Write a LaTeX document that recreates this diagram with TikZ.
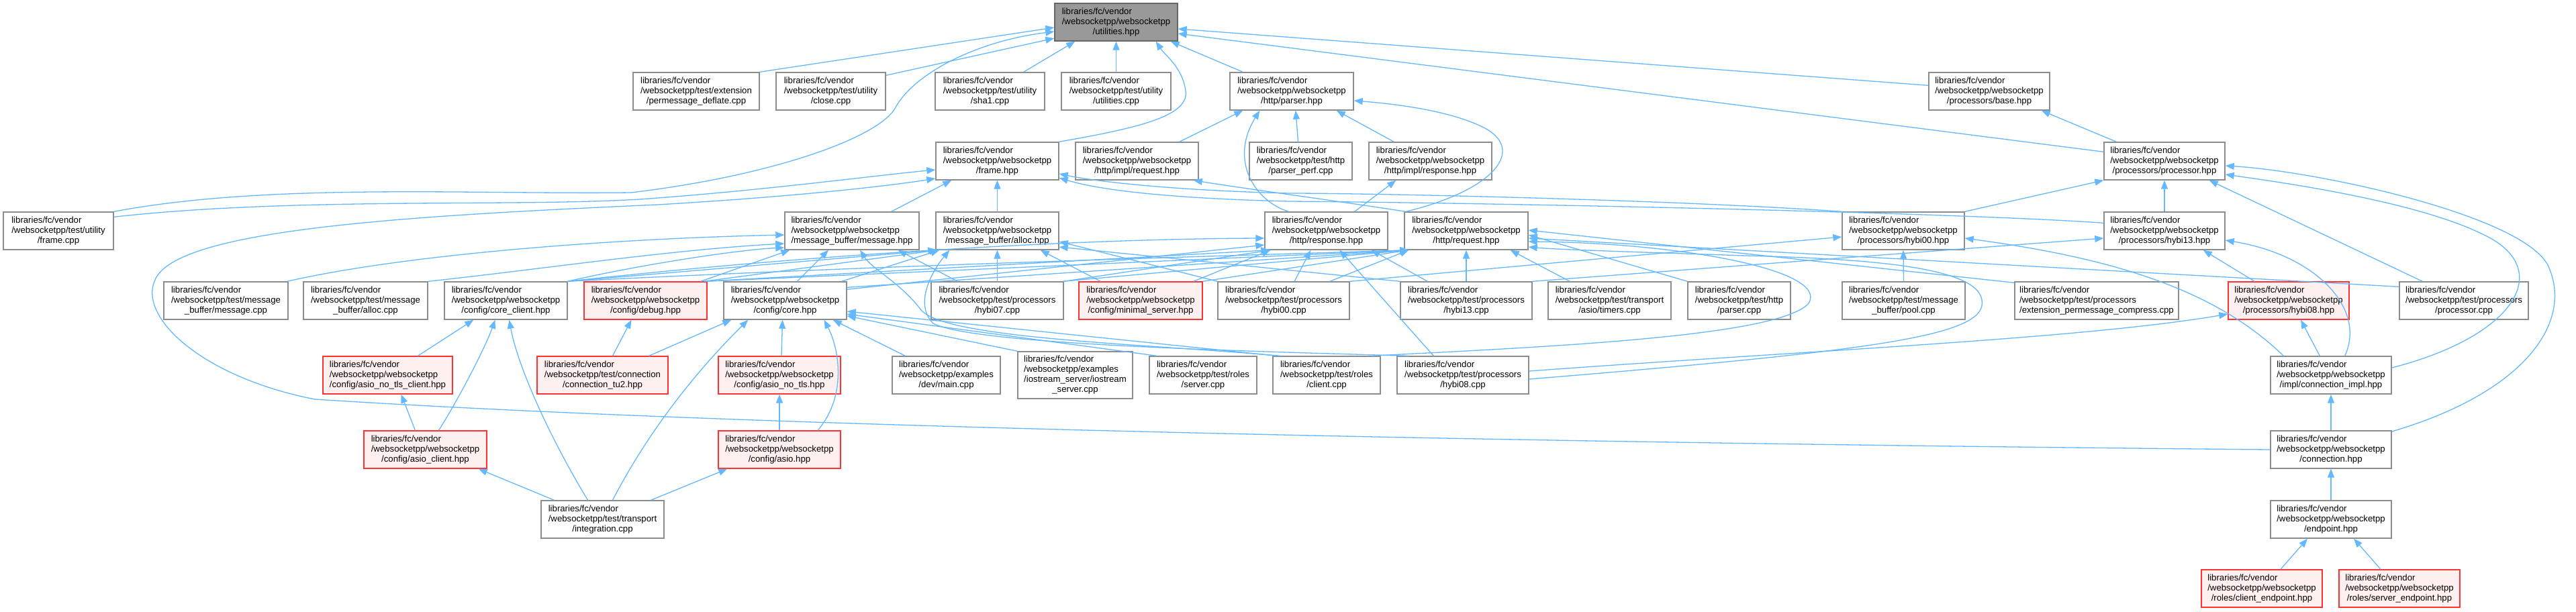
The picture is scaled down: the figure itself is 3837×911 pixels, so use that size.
\documentclass[tikz,border=0pt]{standalone}
\usepackage{fontspec}
\setmainfont{Liberation Sans}
\usetikzlibrary{arrows.meta}
\definecolor{edgeblue}{HTML}{63B8FF}
\definecolor{boxgray}{HTML}{8C8C8C}
\definecolor{rootfill}{HTML}{999999}
\definecolor{rootdraw}{HTML}{666666}
\definecolor{redfill}{HTML}{FFF0F0}
\definecolor{reddraw}{HTML}{FF3333}
\newcommand\lbl[3]{\begin{tabular}{@{}l@{}}#1\\#2\\\multicolumn{1}{@{}c@{}}{#3}\end{tabular}}
\newcommand\lblq[4]{\begin{tabular}{@{}l@{}}#1\\#2\\#3\\\multicolumn{1}{@{}c@{}}{#4}\end{tabular}}
\newcommand\bx[7]{\node[#6, minimum width={(#4)-(#2)}, minimum height={(#5)-(#3)}] (#1) at ({((#2)+(#4))/2},{((#3)+(#5))/2}) {#7};}
\newcommand\lv{libraries/fc/vendor}
\newcommand\ww{/websocketpp/websocketpp}
\newcommand\wtp{/websocketpp/test/processors}
\begin{document}
\begin{tikzpicture}[x=1pt,y=-1pt,
  basebox/.style={rectangle, inner sep=0pt, line width=1.4pt, font=\fontsize{13.2}{15}\selectfont, align=center},
  box/.style={basebox, draw=boxgray, fill=white},
  redbox/.style={basebox, draw=reddraw, fill=redfill},
  rootbox/.style={basebox, draw=rootdraw, fill=rootfill},
  edge/.style={draw=edgeblue, line width=1.3pt, -{Triangle[length=13pt,width=10pt]}}]
\useasboundingbox (0,0) rectangle (3837,911);
\fill[white] (0,0) rectangle (3837,911);
% ---------- nodes ----------
\bx{U}{1571}{5}{1754}{61}{rootbox}{\lbl{\lv}{\ww}{/utilities.hpp}}
\bx{PD}{943}{108}{1131}{164}{box}{\lbl{\lv}{/websocketpp/test/extension}{/permessage\_deflate.cpp}}
\bx{CL}{1156}{108}{1319}{164}{box}{\lbl{\lv}{/websocketpp/test/utility}{/close.cpp}}
\bx{SH}{1393}{108}{1556}{164}{box}{\lbl{\lv}{/websocketpp/test/utility}{/sha1.cpp}}
\bx{UC}{1581}{108}{1744}{164}{box}{\lbl{\lv}{/websocketpp/test/utility}{/utilities.cpp}}
\bx{PH}{1832}{108}{2016}{164}{box}{\lbl{\lv}{\ww}{/http/parser.hpp}}
\bx{BA}{2873}{108}{3053}{164}{box}{\lbl{\lv}{\ww}{/processors/base.hpp}}
\bx{FH}{1394}{212}{1577}{268}{box}{\lbl{\lv}{\ww}{/frame.hpp}}
\bx{IRQ}{1602}{212}{1785}{268}{box}{\lbl{\lv}{\ww}{/http/impl/request.hpp}}
\bx{PP}{1861}{212}{2014}{268}{box}{\lbl{\lv}{/websocketpp/test/http}{/parser\_perf.cpp}}
\bx{IRS}{2039}{212}{2222}{268}{box}{\lbl{\lv}{\ww}{/http/impl/response.hpp}}
\bx{PR}{3134}{212}{3314}{268}{box}{\lbl{\lv}{\ww}{/processors/processor.hpp}}
\bx{FC}{5}{316}{169}{372}{box}{\lbl{\lv}{/websocketpp/test/utility}{/frame.cpp}}
\bx{MH}{1169}{316}{1369}{372}{box}{\lbl{\lv}{\ww}{/message\_buffer/message.hpp}}
\bx{AH}{1394}{316}{1577}{372}{box}{\lbl{\lv}{\ww}{/message\_buffer/alloc.hpp}}
\bx{RS}{1884}{316}{2067}{372}{box}{\lbl{\lv}{\ww}{/http/response.hpp}}
\bx{RQ}{2092}{316}{2276}{372}{box}{\lbl{\lv}{\ww}{/http/request.hpp}}
\bx{H00}{2744}{316}{2926}{372}{box}{\lbl{\lv}{\ww}{/processors/hybi00.hpp}}
\bx{H13}{3134}{316}{3314}{372}{box}{\lbl{\lv}{\ww}{/processors/hybi13.hpp}}
\bx{MC}{244}{420}{429}{476}{box}{\lbl{\lv}{/websocketpp/test/message}{\_buffer/message.cpp}}
\bx{AC}{452}{420}{637}{476}{box}{\lbl{\lv}{/websocketpp/test/message}{\_buffer/alloc.cpp}}
\bx{CC}{662}{420}{845}{476}{box}{\lbl{\lv}{\ww}{/config/core\_client.hpp}}
\bx{DB}{870}{420}{1053}{476}{redbox}{\lbl{\lv}{\ww}{/config/debug.hpp}}
\bx{CO}{1078}{420}{1261}{476}{box}{\lbl{\lv}{\ww}{/config/core.hpp}}
\bx{H07C}{1387}{420}{1584}{476}{box}{\lbl{\lv}{\wtp}{/hybi07.cpp}}
\bx{MS}{1607}{420}{1791}{476}{redbox}{\lbl{\lv}{\ww}{/config/minimal\_server.hpp}}
\bx{H00C}{1814}{420}{2010}{476}{box}{\lbl{\lv}{\wtp}{/hybi00.cpp}}
\bx{H13C}{2086}{420}{2282}{476}{box}{\lbl{\lv}{\wtp}{/hybi13.cpp}}
\bx{TM}{2306}{420}{2489}{476}{box}{\lbl{\lv}{/websocketpp/test/transport}{/asio/timers.cpp}}
\bx{PC}{2514}{420}{2667}{476}{box}{\lbl{\lv}{/websocketpp/test/http}{/parser.cpp}}
\bx{PL}{2744}{420}{2927}{476}{box}{\lbl{\lv}{/websocketpp/test/message}{\_buffer/pool.cpp}}
\bx{EPC}{3001}{420}{3245}{476}{box}{\lbl{\lv}{\wtp}{/extension\_permessage\_compress.cpp}}
\bx{H08}{3319}{420}{3499}{476}{redbox}{\lbl{\lv}{\ww}{/processors/hybi08.hpp}}
\bx{PRC}{3574}{420}{3766}{476}{box}{\lbl{\lv}{\wtp}{/processor.cpp}}
\bx{ANTC}{481}{531}{674}{587}{redbox}{\lbl{\lv}{\ww}{/config/asio\_no\_tls\_client.hpp}}
\bx{TU2}{800}{531}{995}{587}{redbox}{\lbl{\lv}{/websocketpp/test/connection}{/connection\_tu2.hpp}}
\bx{ANT}{1070}{531}{1252}{587}{redbox}{\lbl{\lv}{\ww}{/config/asio\_no\_tls.hpp}}
\bx{DM}{1329}{531}{1490}{587}{box}{\lbl{\lv}{/websocketpp/examples}{/dev/main.cpp}}
\bx{IOS}{1516}{524}{1687}{594}{box}{\lblq{\lv}{/websocketpp/examples}{/iostream\_server/iostream}{\_server.cpp}}
\bx{SRV}{1712}{531}{1872}{587}{box}{\lbl{\lv}{/websocketpp/test/roles}{/server.cpp}}
\bx{CLI}{1896}{531}{2056}{587}{box}{\lbl{\lv}{/websocketpp/test/roles}{/client.cpp}}
\bx{H08C}{2081}{531}{2277}{587}{box}{\lbl{\lv}{\wtp}{/hybi08.cpp}}
\bx{CI}{3382}{531}{3562}{587}{box}{\lbl{\lv}{\ww}{/impl/connection\_impl.hpp}}
\bx{AC2}{542}{642}{725}{698}{redbox}{\lbl{\lv}{\ww}{/config/asio\_client.hpp}}
\bx{AS}{1070}{642}{1252}{698}{redbox}{\lbl{\lv}{\ww}{/config/asio.hpp}}
\bx{CN}{3382}{642}{3562}{698}{box}{\lbl{\lv}{\ww}{/connection.hpp}}
\bx{IT}{806}{746}{989}{802}{box}{\lbl{\lv}{/websocketpp/test/transport}{/integration.cpp}}
\bx{EP}{3382}{746}{3562}{802}{box}{\lbl{\lv}{\ww}{/endpoint.hpp}}
\bx{CE}{3279}{849}{3459}{905}{redbox}{\lbl{\lv}{\ww}{/roles/client\_endpoint.hpp}}
\bx{SE}{3484}{849}{3664}{905}{redbox}{\lbl{\lv}{\ww}{/roles/server\_endpoint.hpp}}
% ---------- edges into utilities.hpp ----------
\draw[edge] (PD.north east) -- ([yshift=-8pt]U.west);
\draw[edge] ([yshift=-5pt]CL.north east) -- ([yshift=-24pt]U.west);
\draw[edge] (FC.north east) .. controls (400,272) and (700,290) .. (940,287) .. controls (1150,262) and (1310,205) .. (1334,160) .. controls (1360,112) and (1450,62) .. ([yshift=-14pt]U.west);
\draw[edge] ([xshift=-32pt]SH.north east) -- ([xshift=31pt]U.south west);
\draw[edge] (UC.north) -- (U.south);
\draw[edge] (FH.north east) .. controls (1700,190) and (1772,172) .. (1766,135) .. controls (1761,100) and (1735,82) .. ([xshift=-33pt]U.south east);
\draw[edge] ([xshift=20pt]PH.north west) -- ([xshift=-11pt]U.south east);
\draw[edge] ([yshift=-20pt]BA.north west) -- ([yshift=-10pt]U.east);
\draw[edge] ([yshift=-15pt]PR.north west) -- ([yshift=-17pt]U.east);
% ---------- parser.hpp ----------
\draw[edge] ([xshift=-29pt]IRQ.north east) -- ([xshift=20pt]PH.south west);
\draw[edge] ([xshift=-4pt]PP.north) -- ([xshift=6pt]PH.south);
\draw[edge] ([xshift=38pt]IRS.north west) -- ([xshift=-26pt]PH.south east);
\draw[edge] ([xshift=36pt]RS.north west) .. controls (1870,300) and (1830,240) .. ([xshift=45pt]PH.south west);
\draw[edge] ([xshift=3pt]RQ.north west) .. controls (2230,282) and (2272,222) .. (2210,190) .. controls (2160,165) and (2080,155) .. ([yshift=-14pt]PH.east);
% ---------- frame.hpp ----------
\draw[edge] ([yshift=-8pt]FC.north east) .. controls (450,292) and (800,310) .. (980,295) .. controls (1150,282) and (1300,262) .. ([yshift=-13pt]FH.west);
\draw[edge] (CN.west) .. controls (2500,662) and (1200,642) .. (469,595) .. controls (300,562) and (205,472) .. (231,417) .. controls (262,342) and (600,322) .. (980,305) .. controls (1200,292) and (1330,276) .. ([yshift=-26pt]FH.west);
\draw[edge] ([xshift=-42pt]MH.north east) -- ([xshift=24pt]FH.south west);
\draw[edge] (AH.north) -- (FH.south);
\draw[edge] ([yshift=-17pt]H13.north west) .. controls (2900,316) and (2200,302) .. (1920,300) .. controls (1750,296) and (1640,284) .. ([yshift=-25pt]FH.east);
\draw[edge] (H00.north west) .. controls (2500,298) and (2050,288) .. (1920,288) .. controls (1760,284) and (1640,272) .. ([yshift=-19pt]FH.east);
% ---------- impl request / response, base ----------
\draw[edge] ([xshift=2pt]RQ.north west) .. controls (2010,302) and (1860,282) .. ([xshift=-8pt]IRQ.south east);
\draw[edge] ([xshift=-50pt]RS.north east) -- ([xshift=41pt]IRS.south west);
\draw[edge] ([xshift=19pt]PR.north west) -- ([xshift=-13pt]BA.south east);
% ---------- processor.hpp ----------
\draw[edge] (H00.north east) -- (PR.south west);
\draw[edge] (H13.north) -- (PR.south);
\draw[edge] ([xshift=35pt]PRC.north west) -- ([xshift=-24pt]PR.south east);
\draw[edge] ([yshift=11pt]CI.east) .. controls (3750,500) and (3805,400) .. (3700,350) .. controls (3600,300) and (3400,272) .. ([yshift=-20pt]PR.east);
\draw[edge] ([yshift=27pt]CN.east) .. controls (3760,585) and (3835,480) .. (3795,395) .. controls (3755,320) and (3450,255) .. ([yshift=-7pt]PR.east);
% ---------- hybi00 / hybi13 / hybi08 ----------
\draw[edge] ([xshift=20pt]CI.north west) .. controls (3300,432) and (3150,385) .. ([yshift=-11pt]H00.east);
\draw[edge] (H00C.north east) -- ([yshift=-9pt]H00.west);
\draw[edge] (PL.north) -- (H00.south);
\draw[edge] (H13C.north east) -- ([yshift=-11pt]H13.west);
\draw[edge] ([xshift=-70pt]CI.north east) .. controls (3525,460) and (3450,380) .. ([yshift=-14pt]H13.east);
\draw[edge] ([xshift=40pt]H08.north west) -- ([xshift=-33pt]H13.south east);
\draw[edge] ([yshift=6pt]H08C.east) .. controls (2700,522) and (3100,505) .. ([yshift=-20pt]H08.west);
\draw[edge] ([xshift=74pt]CI.north west) -- ([xshift=18pt]H08.south);
% ---------- connection chain ----------
\draw[edge] (CN.north) -- (CI.south);
\draw[edge] (EP.north) -- (CN.south);
\draw[edge] ([xshift=28pt]CE.north) -- ([xshift=-35pt]EP.south);
\draw[edge] ([xshift=-28pt]SE.north) -- ([xshift=34pt]EP.south);
% ---------- config area ----------
\draw[edge] ([xshift=45pt]ANTC.north) -- ([xshift=44pt]CC.south west);
\draw[edge] ([xshift=20pt]AC2.north) .. controls (680,600) and (722,520) .. ([xshift=-16pt]CC.south);
\draw[edge] ([xshift=-22pt]IT.north) .. controls (812,640) and (770,540) .. ([xshift=5pt]CC.south);
\draw[edge] ([xshift=-15pt]AC2.north) -- ([xshift=20pt]ANTC.south);
\draw[edge] ([xshift=-72pt]IT.north) -- ([xshift=-13pt]AC2.south east);
\draw[edge] ([xshift=15pt]IT.north) .. controls (962,650) and (1030,560) .. ([xshift=37pt]CO.south west);
\draw[edge] ([xshift=-20pt]IT.north east) -- ([xshift=14pt]AS.south west);
\draw[edge] (AS.north) -- (ANT.south);
\draw[edge] ([xshift=57pt]AS.north) .. controls (1262,590) and (1250,520) .. ([xshift=58pt]CO.south);
\draw[edge] ([xshift=3pt]ANT.north) -- ([xshift=-4pt]CO.south);
\draw[edge] ([xshift=15pt]TU2.north) -- ([xshift=-21pt]DB.south);
\draw[edge] ([xshift=-29pt]TU2.north east) -- ([xshift=12pt]CO.south west);
\draw[edge] ([xshift=20pt]DM.north west) -- ([xshift=-21pt]CO.south east);
\draw[edge] (IOS.north west) -- ([yshift=6pt]CO.south east);
\draw[edge] ([xshift=12pt]SRV.north west) -- ([yshift=-20pt]CO.east);
\draw[edge] ([xshift=6pt]CLI.north west) -- ([yshift=-16pt]CO.east);
% ---------- message.hpp ----------
\draw[edge] ([xshift=-2pt]MC.north east) .. controls (600,380) and (900,356) .. ([yshift=-6pt]MH.west);
\draw[edge] (AC.north east) .. controls (800,402) and (1000,372) .. ([yshift=-19pt]MH.west);
\draw[edge] ([xshift=-10pt]DB.north east) -- ([xshift=8pt]MH.south west);
\draw[edge] (CC.north east) .. controls (950,395) and (1100,372) .. ([yshift=-25pt]MH.west);
\draw[edge] ([xshift=18pt]CO.north) -- ([xshift=-35pt]MH.south);
\draw[edge] ([xshift=40pt]H07C.north west) -- ([xshift=-32pt]MH.south east);
\draw[edge] ([xshift=12pt]CLI.north west) .. controls (1700,512) and (1410,505) .. (1372,462) .. controls (1340,420) and (1300,402) .. ([xshift=12pt]MH.south);
% ---------- alloc.hpp ----------
\draw[edge] ([xshift=18pt]H08C.north west) .. controls (1800,522) and (1450,512) .. (1390,482) .. controls (1360,452) and (1390,402) .. ([xshift=21pt]AH.south west);
\draw[edge] (CC.north east) -- ([xshift=2pt]AH.south west);
\draw[edge] ([xshift=-5pt]DB.north east) -- ([xshift=4pt]AH.south west);
\draw[edge] ([xshift=-8pt]CO.north east) -- ([xshift=6pt]AH.south west);
\draw[edge] ([xshift=33pt]MS.north west) -- ([xshift=-28pt]AH.south east);
\draw[edge] (H07C.north) -- (AH.south);
\draw[edge] (H00C.north west) -- ([yshift=-16pt]AH.east);
\draw[edge] (H13C.north west) -- ([yshift=-24pt]AH.east);
% ---------- http/response.hpp ----------
\draw[edge] (CC.north east) .. controls (1200,380) and (1600,356) .. ([yshift=-11pt]RS.west);
\draw[edge] ([yshift=-12pt]CO.north east) -- ([yshift=-21pt]RS.west);
\draw[edge] ([xshift=-4pt]DB.north east) -- ([xshift=8pt]RS.south west);
\draw[edge] ([xshift=-14pt]MS.north east) -- ([xshift=9pt]RS.south west);
\draw[edge] (H07C.north east) -- ([xshift=10pt]RS.south west);
\draw[edge] ([xshift=16pt]H00C.north) -- ([xshift=-23pt]RS.south);
\draw[edge] ([xshift=55pt]H08C.north west) -- ([xshift=20pt]RS.south);
\draw[edge] ([xshift=41pt]H13C.north west) -- ([xshift=-25pt]RS.south east);
% ---------- http/request.hpp ----------
\draw[edge] (CC.north east) .. controls (1300,396) and (1800,382) .. ([xshift=7pt]RQ.south west);
\draw[edge] ([xshift=-3pt]DB.north east) -- ([xshift=7pt]RQ.south west);
\draw[edge] ([yshift=-9pt]CO.north east) -- ([xshift=7pt]RQ.south west);
\draw[edge] (MS.north east) -- ([xshift=7pt]RQ.south west);
\draw[edge] ([xshift=-2pt]H07C.north east) -- ([xshift=7pt]RQ.south west);
\draw[edge] ([xshift=-30pt]H00C.north east) -- ([xshift=7pt]RQ.south west);
\draw[edge] (H13C.north) -- (RQ.south);
\draw[edge] ([xshift=33pt]TM.north west) -- ([xshift=-27pt]RQ.south east);
\draw[edge] (PC.north west) -- ([yshift=-6pt]RQ.east);
\draw[edge] ([yshift=-2pt]EPC.north west) -- ([yshift=1pt]RQ.east);
\draw[edge] ([yshift=-8pt]PRC.north west) -- ([yshift=-11pt]RQ.east);
\draw[edge] ([yshift=-6pt]H08C.east) .. controls (2800,522) and (2962,500) .. (2952,447) .. controls (2945,400) and (2800,386) .. (2600,381) .. controls (2450,376) and (2320,372) .. ([yshift=-24pt]RQ.east);
\draw[edge] ([xshift=-14pt]CLI.north east) .. controls (2300,517) and (2650,502) .. (2694,452) .. controls (2725,402) and (2500,362) .. ([yshift=-16pt]RQ.east);
\end{tikzpicture}
\end{document}
